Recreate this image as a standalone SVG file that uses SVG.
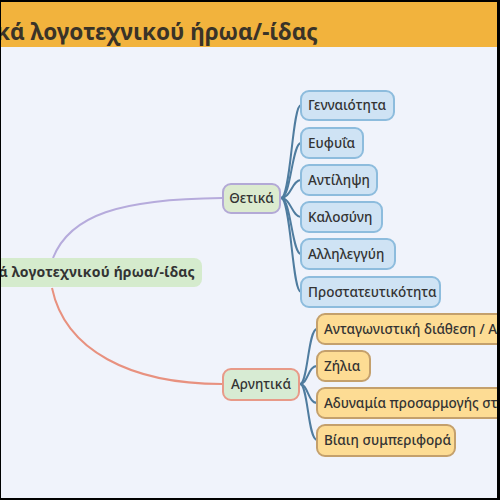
<svg xmlns="http://www.w3.org/2000/svg" width="500" height="500" viewBox="0 0 500 500">
<defs>
<style>
text{font-family:"Noto Sans","DejaVu Sans",sans-serif;fill:#333;}
.t{font-size:13.5px;font-weight:500;}
.pos rect{fill:#CFE3F4;stroke:#8DBCDD;stroke-width:2;}
.neg rect{fill:#FDDC94;stroke:#C4A06C;stroke-width:2;}
.br{fill:none;stroke:#4F7C9F;stroke-width:2;}
</style>
</defs>
<rect x="0" y="0" width="500" height="500" fill="#F0F3FB"/>
<rect x="0" y="0" width="500" height="47" fill="#F2B33D"/>
<text x="-4" y="40" style="font-size:22.5px;font-weight:bold;fill:#3a3328">κά λογοτεχνικού ήρωα/-ίδας</text>

<g id="connectors">
<path d="M53,258 C70,215 120,199 222,198" fill="none" stroke="#B6ABDC" stroke-width="2"/>
<path d="M52,288 C65,350 130,384 222,384" fill="none" stroke="#E8917F" stroke-width="2"/>
<path class="br" d="M281,198 C291,198 292,105 301,105"/>
<path class="br" d="M281,198 C291,198 292,143 301,143"/>
<path class="br" d="M281,198 C291,198 292,180 301,180"/>
<path class="br" d="M281,198 C291,198 292,217 301,217"/>
<path class="br" d="M281,198 C291,198 292,254 301,254"/>
<path class="br" d="M281,198 C291,198 292,292 301,292"/>
<path class="br" d="M300,384 C308,384 308,329 317,329"/>
<path class="br" d="M300,384 C308,384 308,366 317,366"/>
<path class="br" d="M300,384 C308,384 308,403 317,403"/>
<path class="br" d="M300,384 C308,384 308,440 317,440"/>
</g>

<g id="root">
<rect x="-10" y="258" width="212" height="29" rx="8" fill="#D5EBCD"/>
<text x="195" y="277" text-anchor="end" style="font-size:14px;font-weight:bold;letter-spacing:0.2px;">ά λογοτεχνικού ήρωα/-ίδας</text>
</g>

<g id="thetika">
<rect x="223" y="184" width="57" height="29" rx="8" fill="#DCEBCF" stroke="#B3A9D6" stroke-width="2"/>
<text class="t" x="251.5" y="203" text-anchor="middle">Θετικά</text>
</g>
<g id="arnitika">
<rect x="223" y="369" width="76" height="31" rx="8" fill="#D7EBD3" stroke="#E89A88" stroke-width="2"/>
<text class="t" x="261" y="389" text-anchor="middle">Αρνητικά</text>
</g>

<g id="n1" class="pos"><rect x="301" y="91" width="93" height="29" rx="8"/><text class="t" x="308" y="110">Γενναιότητα</text></g>
<g id="n2" class="pos"><rect x="301" y="128" width="62" height="30" rx="8"/><text class="t" x="308" y="148">Ευφυΐα</text></g>
<g id="n3" class="pos"><rect x="301" y="165" width="76" height="30" rx="8"/><text class="t" x="308" y="185">Αντίληψη</text></g>
<g id="n4" class="pos"><rect x="301" y="202" width="81" height="30" rx="8"/><text class="t" x="308" y="222">Καλοσύνη</text></g>
<g id="n5" class="pos"><rect x="301" y="239" width="94" height="30" rx="8"/><text class="t" x="308" y="259">Αλληλεγγύη</text></g>
<g id="n6" class="pos"><rect x="301" y="277" width="139" height="30" rx="8"/><text class="t" x="308" y="297">Προστατευτικότητα</text></g>

<g id="m1" class="neg"><rect x="317" y="314" width="200" height="30" rx="8"/><text class="t" x="324" y="334">Ανταγωνιστική διάθεση / Α</text></g>
<g id="m2" class="neg"><rect x="317" y="351" width="53" height="30" rx="8"/><text class="t" x="324" y="371">Ζήλια</text></g>
<g id="m3" class="neg"><rect x="317" y="388" width="200" height="30" rx="8"/><text class="t" x="324" y="408">Αδυναμία προσαρμογής στι</text></g>
<g id="m4" class="neg"><rect x="317" y="425" width="138" height="31" rx="8"/><text class="t" x="324" y="445">Βίαιη συμπεριφορά</text></g>

<g id="frame" fill="#000">
<rect x="0" y="0" width="500" height="2"/>
<rect x="497" y="0" width="3" height="500"/>
<rect x="0" y="498" width="500" height="2"/>
<rect x="0" y="0" width="1" height="500"/>
</g>
</svg>
